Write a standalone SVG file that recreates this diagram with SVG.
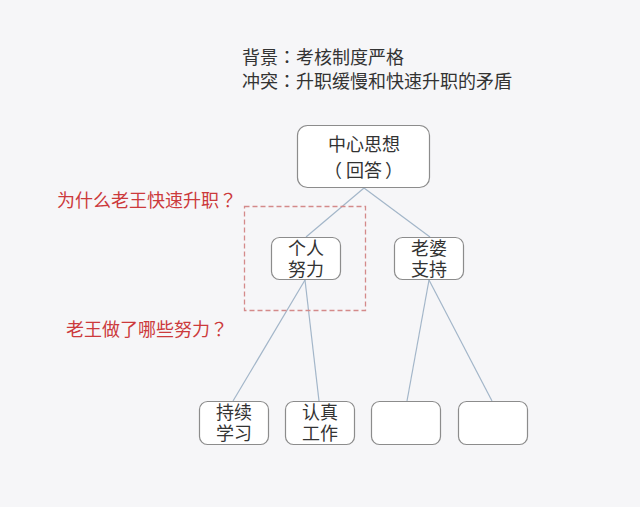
<svg xmlns="http://www.w3.org/2000/svg" width="640" height="507" viewBox="0 0 640 507">
<style>
text{font-family:"Noto Sans CJK SC","Noto Sans",sans-serif;font-size:18px;fill:#333}
.p{font-family:"Noto Sans CJK TC","Noto Sans CJK SC",sans-serif}
.n rect{fill:#fff;stroke:#8c8c8c;stroke-width:1.2}
.n text{text-anchor:middle}
.red{fill:#cc3a3c}
#connectors line{stroke:#a3b6c9;stroke-width:1.2}
</style>
<rect width="640" height="507" fill="#f6f6f8"/>
<g id="header">
<text x="242" y="64">背景<tspan class="p">：</tspan>考核制度严格</text>
<text x="242" y="88">冲突<tspan class="p">：</tspan>升职缓慢和快速升职的矛盾</text>
</g>
<g id="connectors">
<line x1="364" y1="188" x2="306" y2="237"/>
<line x1="364" y1="188" x2="430" y2="237"/>
<line x1="305" y1="280" x2="233" y2="401"/>
<line x1="305" y1="280" x2="319" y2="401"/>
<line x1="429" y1="280" x2="407" y2="401"/>
<line x1="429" y1="280" x2="492" y2="401"/>
</g>
<g id="focus">
<rect x="244.5" y="206.5" width="121" height="104" fill="none" stroke="#d48a8a" stroke-width="1.3" stroke-dasharray="5,3"/>
</g>
<g id="n-center" class="n"><rect x="297.5" y="125.5" width="132" height="62" rx="10"/><text><tspan x="364" y="151">中心思想</tspan><tspan x="333" y="177">（</tspan><tspan x="364" y="177">回答</tspan><tspan x="394" y="177">）</tspan></text></g>
<g id="n-personal" class="n"><rect x="271.5" y="237.5" width="69" height="42" rx="8"/><text><tspan x="306" y="255">个人</tspan><tspan x="306" y="276">努力</tspan></text></g>
<g id="n-wife" class="n"><rect x="394.5" y="237.5" width="69" height="42" rx="8"/><text><tspan x="429" y="255">老婆</tspan><tspan x="429" y="276">支持</tspan></text></g>
<g id="n-study" class="n"><rect x="199.5" y="401.5" width="69" height="43" rx="8"/><text><tspan x="234" y="419">持续</tspan><tspan x="234" y="440">学习</tspan></text></g>
<g id="n-work" class="n"><rect x="285.5" y="401.5" width="69" height="43" rx="8"/><text><tspan x="320" y="419">认真</tspan><tspan x="320" y="440">工作</tspan></text></g>
<g id="n-empty1" class="n"><rect x="371.5" y="401.5" width="69" height="43" rx="8"/></g>
<g id="n-empty2" class="n"><rect x="458.5" y="401.5" width="69" height="43" rx="8"/></g>
<g id="questions">
<text class="red" x="57" y="207">为什么老王快速升职<tspan class="p">？</tspan></text>
<text class="red" x="66" y="336">老王做了哪些努力<tspan class="p">？</tspan></text>
</g>
</svg>
